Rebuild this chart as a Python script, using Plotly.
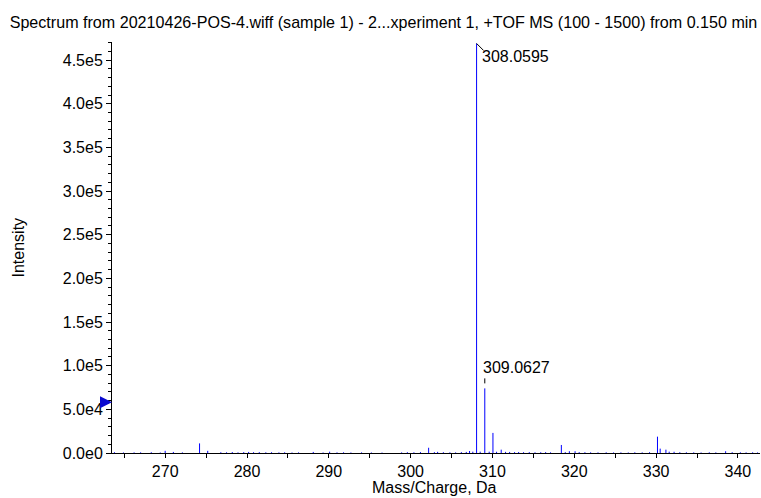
import plotly.graph_objects as go

# ---- data ----
mz = [263.8, 264.9, 266.2, 267.0, 268.3, 269.4, 270.0, 271.0, 272.1, 274.2,
      275.2, 276.8, 277.5, 278.2, 278.9, 279.6, 280.2, 280.8, 281.5, 282.3,
      283.0, 283.9, 284.6, 285.5, 286.3, 288.1, 289.3, 290.1, 291.0, 291.8,
      292.7, 294.0, 295.2, 296.5, 298.9, 299.6, 300.4, 301.2, 302.2, 302.9,
      303.3, 304.0, 304.8, 305.5, 306.2, 306.8, 307.2, 307.6, 308.0595, 308.5,
      309.0627, 309.6, 310.06, 310.5, 311.07, 311.6, 312.1, 312.7, 313.2, 313.8,
      314.5, 315.2, 315.9, 316.5, 317.1, 318.42, 318.9, 319.4, 320.1, 320.6,
      321.3, 322.0, 322.9, 323.9, 324.8, 325.7, 326.6, 327.4, 328.3, 329.2,
      330.17, 330.5, 331.2, 331.6, 332.2, 332.9, 333.7, 334.6, 335.5, 336.5,
      337.3, 338.5, 339.3, 340.3, 341.0, 341.8, 342.4]
intensity = [900, 600, 700, 800, 900, 600, 2500, 1200, 700, 11000,
             2500, 900, 800, 1100, 700, 1000, 1200, 900, 1000, 800,
             900, 700, 800, 600, 700, 1200, 600, 1500, 700, 800,
             600, 700, 600, 500, 700, 900, 800, 1100, 6000, 1000,
             1300, 900, 800, 700, 1000, 1200, 2300, 1500, 469000, 1500,
             74000, 1500, 23000, 1400, 3800, 1300, 1200, 1000, 1100, 900,
             1000, 800, 900, 1000, 800, 9200, 1000, 2000, 2000, 1000,
             900, 800, 700, 800, 600, 700, 600, 800, 700, 900,
             18700, 5000, 3800, 1500, 1400, 900, 800, 700, 600, 800,
             700, 2000, 900, 800, 700, 800, 600]

labels_mz = [308.0595, 309.0627]
labels_int = [469000, 74000]
threshold = 58000

y_tickvals = [0, 50000, 100000, 150000, 200000, 250000, 300000, 350000, 400000, 450000]
y_ticktext = ["0.0e0", "5.0e4", "1.0e5", "1.5e5", "2.0e5", "2.5e5", "3.0e5", "3.5e5", "4.0e5", "4.5e5"]
x_tickvals = [270, 280, 290, 300, 310, 320, 330, 340]

title_text = "Spectrum from 20210426-POS-4.wiff (sample 1) - 2...xperiment 1, +TOF MS (100 - 1500) from 0.150 min"

# stick spectrum built from the arrays
xs, ys = [], []
for m, i in zip(mz, intensity):
    xs += [m, m, None]
    ys += [0, i, None]

FONT = "Liberation Sans, Arial, sans-serif"
FS = 16

fig = go.Figure()
fig.add_trace(go.Scatter(x=xs, y=ys, mode="lines",
                         line=dict(color="#0000ff", width=1),
                         hoverinfo="skip", showlegend=False))

fig.update_layout(
    width=761, height=498,
    margin=dict(l=112, r=1, t=42, b=45, autoexpand=False),
    paper_bgcolor="white", plot_bgcolor="white",
    font=dict(family=FONT, size=FS, color="black"),
    showlegend=False,
    title=dict(text=title_text, x=383.5 / 761, xref="container", xanchor="center",
               y=1 - 22 / 498, yref="container", yanchor="middle",
               font=dict(size=16.1, family=FONT)),
)
fig.update_xaxes(range=[263.5, 342.7], showgrid=False, zeroline=False,
                 showline=True, linecolor="black", linewidth=1,
                 tickmode="array", tickvals=x_tickvals,
                 ticks="outside", ticklen=4, tickcolor="black",
                 minor=dict(dtick=5, tick0=0, ticks="outside", ticklen=4, tickcolor="black"),
                 tickfont=dict(size=FS), automargin=False)
fig.update_yaxes(range=[0, 470700], showgrid=False, zeroline=False,
                 showline=True, linecolor="black", linewidth=1,
                 tickmode="array", tickvals=y_tickvals, ticktext=y_ticktext,
                 ticks="outside", ticklen=5, tickcolor="black",
                 minor=dict(dtick=10000, tick0=0, ticks="outside", ticklen=3, tickcolor="black"),
                 tickfont=dict(size=FS), automargin=False)

# axis titles
fig.add_annotation(text="Mass/Charge, Da", xref="paper", yref="paper",
                   x=0.498, y=0, yshift=-34.5, showarrow=False,
                   xanchor="center", yanchor="middle", font=dict(size=FS))
fig.add_annotation(text="Intensity", xref="paper", yref="paper",
                   x=0, xshift=-94, y=0.5, textangle=-90, showarrow=False,
                   xanchor="center", yanchor="middle", font=dict(size=FS))

# peak labels
fig.add_annotation(x=labels_mz[0], y=labels_int[0], text="%.4f" % labels_mz[0],
                   showarrow=False, xanchor="left", yanchor="middle",
                   xshift=3, yshift=-13, font=dict(size=FS))
fig.add_shape(type="line", xref="x", yref="y", xsizemode="pixel", ysizemode="pixel",
              xanchor=labels_mz[0], yanchor=labels_int[0],
              x0=0, x1=7, y0=0, y1=-7, line=dict(color="black", width=1))

fig.add_annotation(x=labels_mz[1], y=labels_int[1], text="%.4f" % labels_mz[1],
                   showarrow=False, xanchor="left", yanchor="middle",
                   xshift=-4, yshift=21, font=dict(size=FS))
fig.add_shape(type="line", xref="x", yref="y", xsizemode="pixel", ysizemode="pixel",
              xanchor=labels_mz[1], yanchor=labels_int[1],
              x0=0, x1=0, y0=5, y1=10, line=dict(color="black", width=1))

# threshold arrow on the y axis
fig.add_annotation(xref="paper", yref="y", x=0, y=threshold, ax=-12, ay=0,
                   text="", showarrow=True, arrowhead=2, arrowsize=0.8,
                   arrowwidth=3, arrowcolor="#0a0ad0", standoff=0)

# remove the default page margin so the 761x498 figure fills the window exactly
fig.write_html("out.html", config={"displayModeBar": False},
               post_script="document.body.style.margin='0';document.body.style.overflow='hidden';")
